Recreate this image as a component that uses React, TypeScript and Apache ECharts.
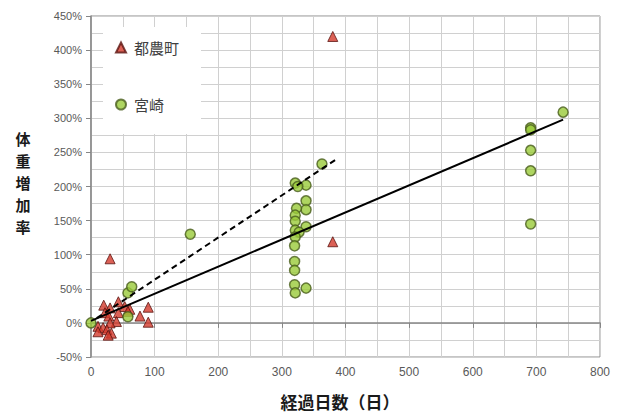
import React, { useEffect, useRef } from "react";
import * as echarts from "echarts";

const tsunoData: number[][] = [
  [30, 94], [380, 420], [380, 119], [20, 26], [30, 22], [43, 31], [53, 24],
  [61, 20], [90, 23], [22, 15], [28, 10], [43, 15], [58, 17], [77, 10],
  [90, 1], [40, 2], [30, 0], [11, -5], [19, -7], [25, -10], [11, -13],
  [32, -15], [27, -18],
];

const miyazakiData: number[][] = [
  [0, 0], [58, 9], [58, 44], [64, 53], [156, 130], [363, 233], [321, 205],
  [338, 202], [325, 200], [338, 179], [338, 166], [323, 168], [321, 158],
  [321, 149], [321, 136], [338, 141], [327, 133], [321, 126], [320, 113],
  [320, 90], [320, 77], [320, 56], [321, 44], [338, 51], [742, 309],
  [691, 286], [691, 283], [691, 253], [691, 223], [691, 145],
];

const solidTrend: number[][] = [[0, 3], [742, 298]];
const dashedTrend: number[][] = [[9, 7], [384, 239]];

const seriesNames = ["都農町", "宮崎"];
const yTitleChars = ["体", "重", "増", "加", "率"];
const xTitle = "経過日数（日）";

const JP = '"Noto Sans CJK JP", sans-serif';

export default function App() {
  const ref = useRef<HTMLDivElement>(null);
  useEffect(() => {
    if (!ref.current) return;
    const chart = echarts.init(ref.current, undefined, { renderer: "svg" });
    const yTitleGraphics = yTitleChars.map((ch, i) => ({
      type: "text",
      x: 23,
      y: 138 + i * 22,
      style: {
        text: ch,
        font: `bold 15px ${JP}`,
        fill: "#1a1a1a",
        align: "center",
        verticalAlign: "middle",
        lineHeight: 16,
      },
    }));
    chart.setOption({
      animation: false,
      backgroundColor: "#ffffff",
      grid: {
        left: 91, right: 21, top: 16, bottom: 57,
        show: true, borderColor: "#8c8c8c", borderWidth: 1,
      },
      legend: {
        data: seriesNames,
        orient: "vertical",
        left: 103,
        top: 27,
        padding: [13, 22, 22, 12],
        itemGap: 42,
        itemWidth: 10,
        itemHeight: 10,
        backgroundColor: "#ffffff",
        textStyle: { fontFamily: JP, fontSize: 15, color: "#404040", padding: [0, 0, 0, 3] },
      },
      xAxis: {
        type: "value",
        min: 0, max: 800, interval: 100,
        axisLine: { show: true, lineStyle: { color: "#868686", width: 1.5 } },
        axisTick: { show: true, length: 5, lineStyle: { color: "#868686" } },
        axisLabel: { color: "#595959", fontSize: 12, fontFamily: "Liberation Sans", margin: 9 },
        splitLine: { show: true, lineStyle: { color: "#d0d0d0", width: 1 } },
        minorTick: { show: false, splitNumber: 2 },
        minorSplitLine: { show: true, lineStyle: { color: "#d0d0d0", width: 1 } },
      },
      yAxis: {
        type: "value",
        min: -50, max: 450, interval: 50,
        axisLine: { show: true, lineStyle: { color: "#868686", width: 1.5 } },
        axisTick: { show: true, length: 5, lineStyle: { color: "#868686" } },
        axisLabel: {
          color: "#595959", fontSize: 11, fontFamily: "Liberation Sans", margin: 9,
          formatter: "{value}%",
        },
        splitLine: { show: true, lineStyle: { color: "#d0d0d0", width: 1 } },
        minorTick: { show: false, splitNumber: 2 },
        minorSplitLine: { show: true, lineStyle: { color: "#d0d0d0", width: 1 } },
      },
      graphic: [
        ...yTitleGraphics,
        {
          type: "text",
          x: 340,
          y: 401,
          style: {
            text: xTitle,
            font: `bold 17px ${JP}`,
            fill: "#1a1a1a",
            align: "center",
            verticalAlign: "middle",
            lineHeight: 18,
          },
        },
      ],
      series: [
        {
          name: seriesNames[0],
          type: "scatter",
          data: tsunoData,
          symbol: "triangle",
          symbolSize: 10,
          itemStyle: { color: "#d33a2c", borderColor: "#5a1410", borderWidth: 1 },
          z: 3,
        },
        {
          name: seriesNames[1],
          type: "scatter",
          data: miyazakiData,
          symbol: "circle",
          symbolSize: 10,
          itemStyle: { color: "#9acb3a", borderColor: "#4a5e1e", borderWidth: 1.5 },
          z: 3,
        },
        {
          name: "trend1",
          type: "line",
          data: solidTrend,
          showSymbol: false,
          symbol: "none",
          lineStyle: { color: "#000000", width: 2 },
          z: 5,
        },
        {
          name: "trend2",
          type: "line",
          data: dashedTrend,
          showSymbol: false,
          symbol: "none",
          lineStyle: { color: "#000000", width: 2, type: [6, 4] },
          z: 5,
        },
      ],
    });
    return () => chart.dispose();
  }, []);
  return (
    <div
      ref={ref}
      style={{ position: "fixed", left: 0, top: 0, width: 621, height: 414 }}
    />
  );
}
